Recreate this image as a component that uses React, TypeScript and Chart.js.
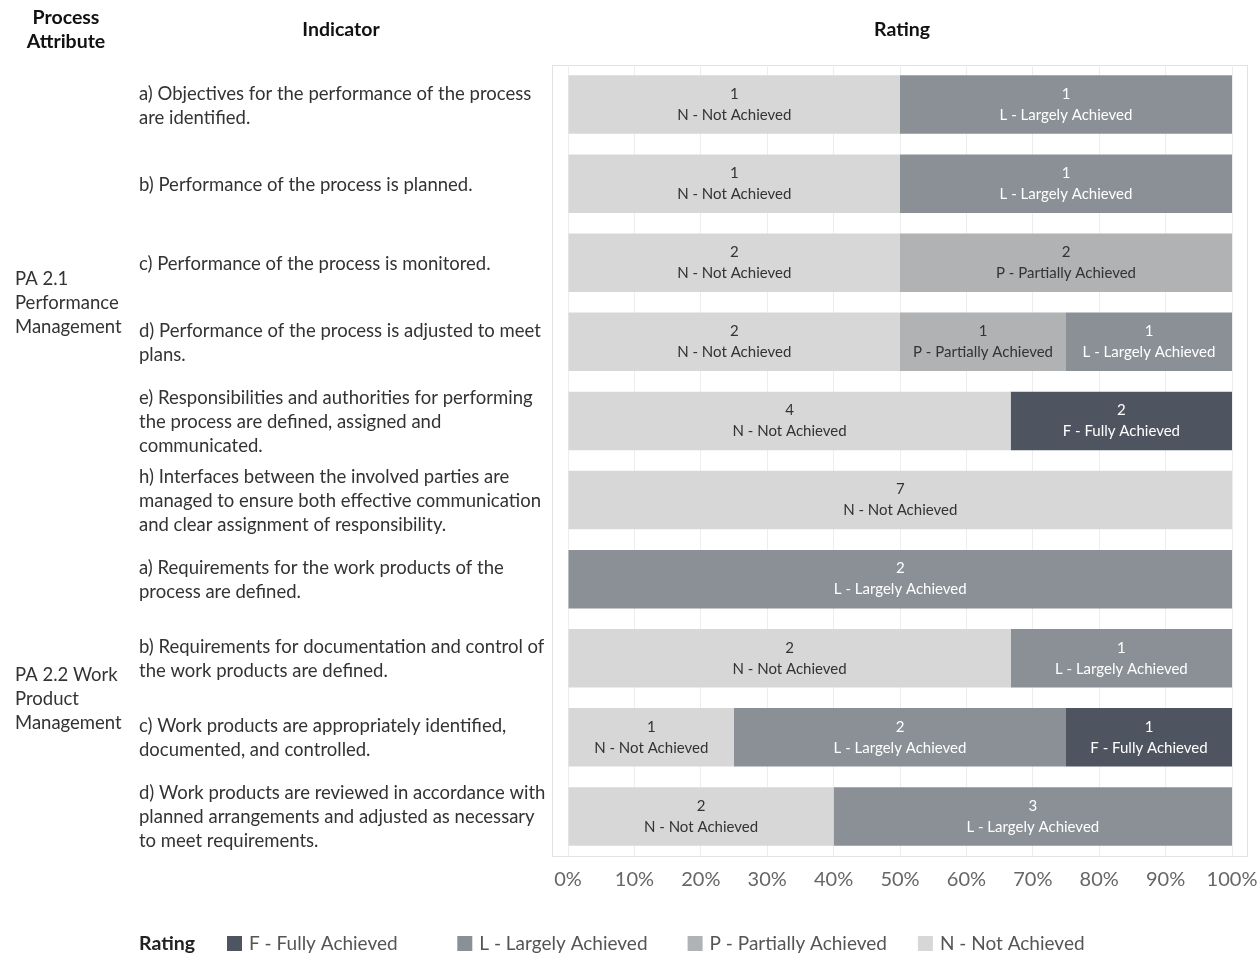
import React, { useEffect, useRef } from "react";
import { Chart, registerables } from "chart.js";

Chart.register(...registerables);

const processAttributes = [
  { lines: ["PA 2.1", "Performance", "Management"], first: 0, last: 5 },
  { lines: ["PA 2.2 Work", "Product", "Management"], first: 6, last: 9 },
];

const indicators: string[][] = [
  ["a) Objectives for the performance of the process", "are identified."],
  ["b) Performance of the process is planned."],
  ["c) Performance of the process is monitored."],
  ["d) Performance of the process is adjusted to meet", "plans."],
  ["e) Responsibilities and authorities for performing", "the process are defined, assigned and", "communicated."],
  ["h) Interfaces between the involved parties are", "managed to ensure both effective communication", "and clear assignment of responsibility."],
  ["a) Requirements for the work products of the", "process are defined."],
  ["b) Requirements for documentation and control of", "the work products are defined."],
  ["c) Work products are appropriately identified,", "documented, and controlled."],
  ["d) Work products are reviewed in accordance with", "planned arrangements and adjusted as necessary", "to meet requirements."],
];

const ratingNames = ["N - Not Achieved", "P - Partially Achieved", "L - Largely Achieved", "F - Fully Achieved"];
const ratingColors = ["#d7d7d7", "#b0b2b3", "#8a9096", "#4f5560"];
const ratingTextColors = ["#333333", "#333333", "#ffffff", "#ffffff"];

const notAchieved = [1, 1, 2, 2, 4, 7, 0, 2, 1, 2];
const partiallyAchieved = [0, 0, 2, 1, 0, 0, 0, 0, 0, 0];
const largelyAchieved = [1, 1, 0, 1, 0, 0, 2, 1, 2, 3];
const fullyAchieved = [0, 0, 0, 0, 2, 0, 0, 0, 1, 0];

const legendOrder = [3, 2, 1, 0];
const xTicks = [0, 10, 20, 30, 40, 50, 60, 70, 80, 90, 100];

const FONT = "Lato, 'Open Sans', sans-serif";

export default function App() {
  const ref = useRef<HTMLCanvasElement | null>(null);

  useEffect(() => {
    if (!ref.current) return;
    const counts = [notAchieved, partiallyAchieved, largelyAchieved, fullyAchieved];
    const totals = indicators.map((_, i) => counts.reduce((s, c) => s + c[i], 0));
    const labels = indicators.map((l) => l.join(" "));

    const decor = {
      id: "decor",
      beforeDraw(chart: any) {
        const { ctx, chartArea } = chart;
        ctx.save();
        ctx.strokeStyle = "#e2e2e2";
        ctx.lineWidth = 1;
        ctx.strokeRect(chartArea.left - 15.5, chartArea.top + 0.5, chartArea.right - chartArea.left + 31, chartArea.bottom - chartArea.top);
        ctx.restore();
      },
      afterDatasetsDraw(chart: any) {
        const { ctx } = chart;
        ctx.save();
        ctx.textAlign = "center";
        ctx.textBaseline = "middle";
        ctx.font = `15px ${FONT}`;
        chart.data.datasets.forEach((ds: any, di: number) => {
          const meta = chart.getDatasetMeta(di);
          meta.data.forEach((el: any, i: number) => {
            const c = counts[di][i];
            if (!c) return;
            const p = el.getProps(["x", "y", "base"], true);
            const cx = (p.x + p.base) / 2;
            ctx.fillStyle = ratingTextColors[di];
            ctx.fillText(String(c), cx, p.y - 10.5);
            ctx.fillText(ratingNames[di], cx, p.y + 10.5);
          });
        });
        ctx.restore();
      },
      afterDraw(chart: any) {
        const { ctx, chartArea } = chart;
        const y = chart.scales.y;
        ctx.save();
        ctx.textBaseline = "middle";
        // headers
        ctx.fillStyle = "#111";
        ctx.font = `bold 19.5px ${FONT}`;
        ctx.textAlign = "center";
        ctx.fillText("Process", 66, 18);
        ctx.fillText("Attribute", 66, 42);
        ctx.fillText("Indicator", 341, 30);
        ctx.fillText("Rating", (chartArea.left + chartArea.right) / 2 + 2, 30);
        // indicators
        ctx.textAlign = "left";
        ctx.font = `18.5px ${FONT}`;
        ctx.fillStyle = "#333";
        indicators.forEach((lines, i) => {
          const yc = y.getPixelForValue(i);
          lines.forEach((t, k) => {
            ctx.fillText(t, 139, yc + 1 + (k - (lines.length - 1) / 2) * 24);
          });
        });
        processAttributes.forEach((pa) => {
          const yc = (y.getPixelForValue(pa.first) + y.getPixelForValue(pa.last)) / 2;
          pa.lines.forEach((t, k) => {
            ctx.fillText(t, 15, yc + 1 + (k - (pa.lines.length - 1) / 2) * 24);
          });
        });
        // legend
        ctx.font = `bold 19.5px ${FONT}`;
        ctx.fillStyle = "#222";
        ctx.fillText("Rating", 139, 944);
        ctx.font = `19px ${FONT}`;
        legendOrder.forEach((di, k) => {
          const x0 = 227 + k * 230.3;
          ctx.fillStyle = chart.data.datasets[di].backgroundColor;
          ctx.fillRect(x0, 936, 15, 15);
          ctx.fillStyle = "#555";
          ctx.fillText(chart.data.datasets[di].label, x0 + 22, 944);
        });
        ctx.restore();
      },
    };

    const chart = new Chart(ref.current, {
      type: "bar",
      data: {
        labels,
        datasets: counts.map((c, di) => ({
          label: ratingNames[di],
          data: c.map((v, i) => (v / totals[i]) * 100),
          backgroundColor: ratingColors[di],
          borderWidth: 0,
          barPercentage: 0.74,
          categoryPercentage: 1,
        })),
      },
      options: {
        indexAxis: "y",
        animation: false,
        responsive: false,
        maintainAspectRatio: false,
        layout: { padding: { left: 568, right: 26, top: 65, bottom: 65 } },
        plugins: { legend: { display: false }, tooltip: { enabled: false } },
        scales: {
          x: {
            stacked: true,
            min: 0,
            max: 100,
            afterBuildTicks: (axis: any) => {
              axis.ticks = xTicks.map((v) => ({ value: v }));
            },
            afterFit: (axis: any) => {
              axis.height = 33;
              axis.paddingLeft = 0;
              axis.paddingRight = 0;
            },
            ticks: {
              callback: (v: any) => `${v}%`,
              color: "#666",
              font: { size: 20, family: FONT },
              padding: 12,
              maxRotation: 0,
              autoSkip: false,
            },
            grid: { color: "#ededed", drawTicks: false, tickLength: 0 },
            border: { display: false },
          },
          y: { stacked: true, display: false },
        },
      },
      plugins: [decor],
    } as any);
    return () => chart.destroy();
  }, []);

  return (
    <div style={{ position: "absolute", left: 0, top: 0, width: 1258, height: 954 }}>
      <canvas ref={ref} width={1258} height={954} style={{ width: 1258, height: 954, display: "block" }} />
    </div>
  );
}
